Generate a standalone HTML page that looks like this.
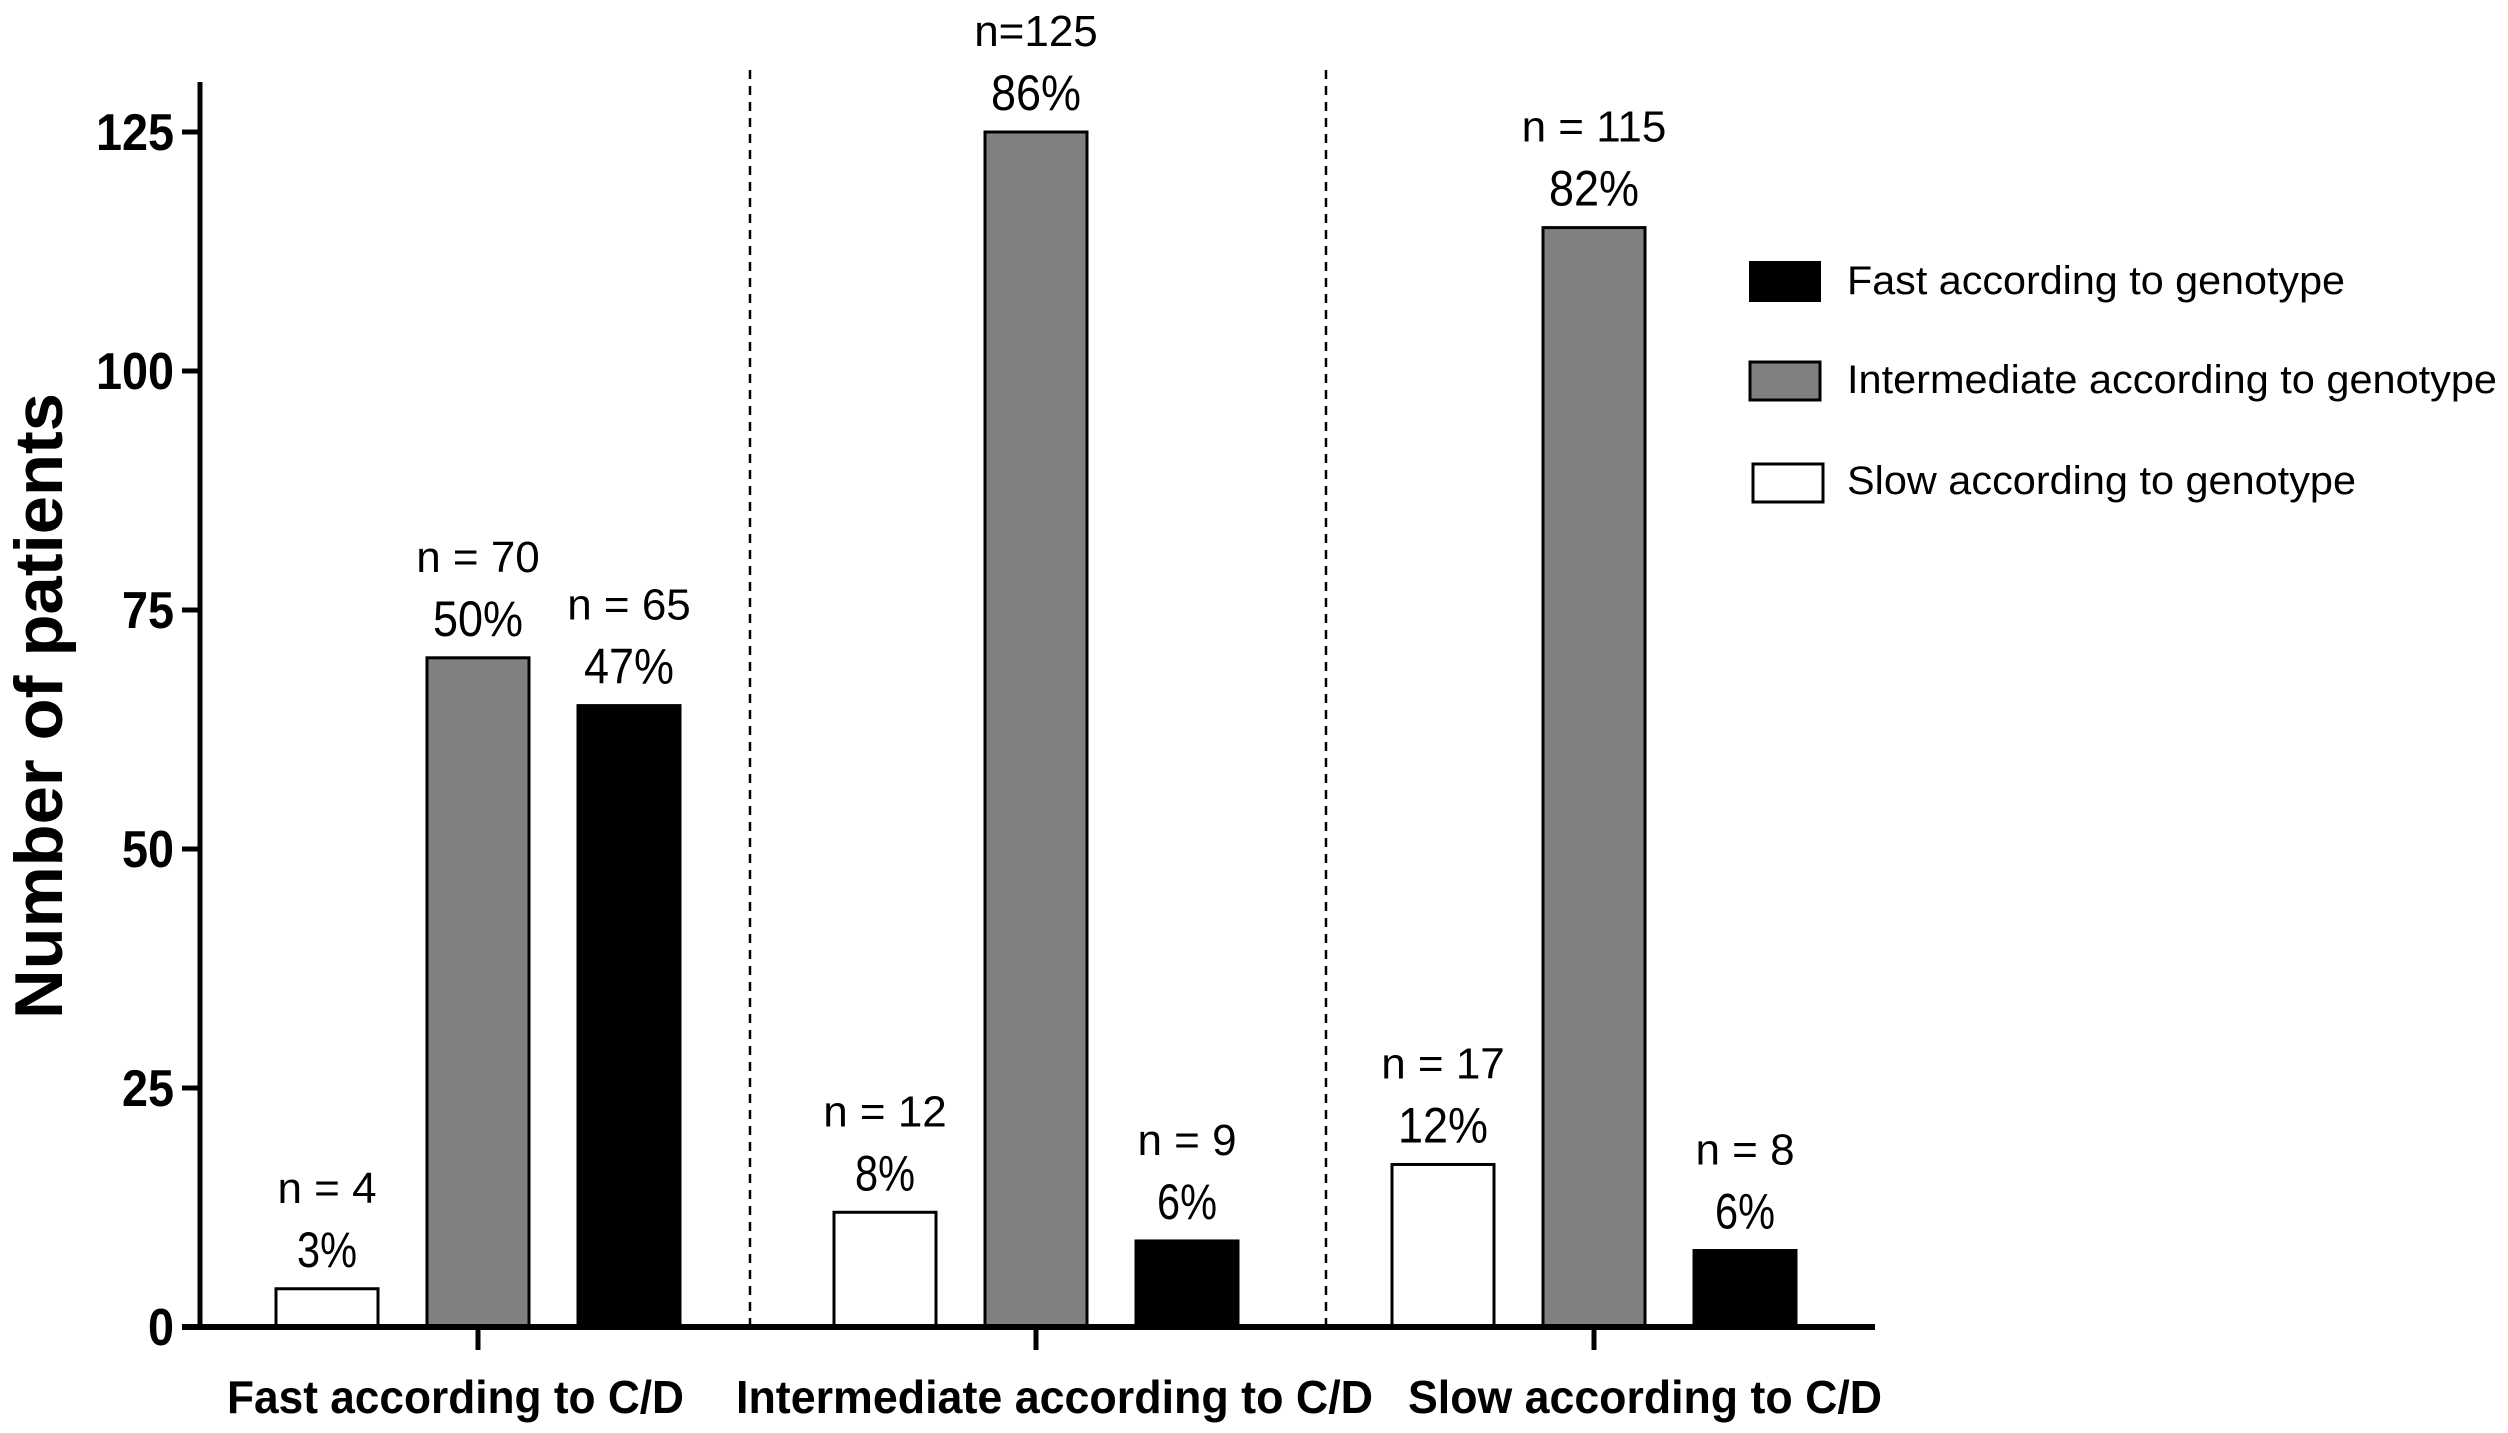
<!DOCTYPE html>
<html><head><meta charset="utf-8"><style>
html,body{margin:0;padding:0;background:#fff}
svg{display:block;font-family:"Liberation Sans",Arial,sans-serif}
</style></head><body>
<svg id="chart" width="2508" height="1433" viewBox="0 0 2508 1433" xmlns="http://www.w3.org/2000/svg">
<rect x="0" y="0" width="2508" height="1433" fill="#fff"/>
<g id="plot"></g>
<text transform="translate(62,706) rotate(-90)" text-anchor="middle" font-size="68" font-weight="bold" textLength="626" lengthAdjust="spacingAndGlyphs">Number of patients</text>
<g>
<g><rect x="1750" y="262" width="70" height="39" fill="#000" stroke="#000" stroke-width="2"/><text x="1847" y="294" font-size="40" textLength="498" lengthAdjust="spacingAndGlyphs">Fast according to genotype</text></g>
<g><rect x="1750" y="362" width="70" height="38" fill="#808080" stroke="#000" stroke-width="3"/><text x="1847" y="393" font-size="40" textLength="650" lengthAdjust="spacingAndGlyphs">Intermediate according to genotype</text></g>
<g><rect x="1753" y="464" width="70" height="38" fill="#fff" stroke="#000" stroke-width="3"/><text x="1847" y="494" font-size="40" textLength="509" lengthAdjust="spacingAndGlyphs">Slow according to genotype</text></g>
</g>
</svg>
<script>
const categories = ["Fast according to C/D", "Intermediate according to C/D", "Slow according to C/D"];
const slowValues = [4, 12, 17];
const intermediateValues = [70, 125, 115];
const fastValues = [65, 9, 8];
const slowPct = ["3%", "8%", "12%"];
const intermediatePct = ["50%", "86%", "82%"];
const fastPct = ["47%", "6%", "6%"];
const intermediateN = ["n = 70", "n=125", "n = 115"];
const slowN = ["n = 4", "n = 12", "n = 17"];
const fastN = ["n = 65", "n = 9", "n = 8"];
const yTicks = [0, 25, 50, 75, 100, 125];
const yTickLabels = ["0", "25", "50", "75", "100", "125"];

const NS = "http://www.w3.org/2000/svg";
const plot = document.getElementById('plot');
const X0 = 200, Y0 = 1327, YTOP = 82, XEND = 1875;
const unit = (1327 - 132) / 125;
function y(v){ return Y0 - v * unit; }
function groupCenter(i){ return 478 + i * 558; }
const barW = 102, barStep = 151;
function mk(tag, attrs){ const e = document.createElementNS(NS, tag); for (const k in attrs) e.setAttribute(k, attrs[k]); plot.appendChild(e); return e; }

// dashed separators
[750, 1326].forEach(function(dx){
  const l = mk('line', {x1: dx, x2: dx, y1: 70, y2: Y0, stroke: '#000', 'stroke-width': 2.5, 'stroke-dasharray': '9,7'});
  
  
});

const series = [
  {vals: slowValues, pct: slowPct, n: slowN, fill: '#fff', name: 'slow'},
  {vals: intermediateValues, pct: intermediatePct, n: intermediateN, fill: '#808080', name: 'intermediate'},
  {vals: fastValues, pct: fastPct, n: fastN, fill: '#000', name: 'fast'}
];
categories.forEach(function(cat, i){
  series.forEach(function(s, j){
    const cx = groupCenter(i) + (j - 1) * barStep;
    const top = y(s.vals[i]);
    const r = mk('rect', {x: cx - barW/2, y: top, width: barW, height: Y0 - top, fill: s.fill, stroke: '#000', 'stroke-width': 3});
    
    
    const p = mk('text', {x: cx, y: top - 22, 'text-anchor': 'middle', 'font-size': 50, textLength: s.pct[i].length * 30, lengthAdjust: 'spacingAndGlyphs'});
    p.textContent = s.pct[i];
    
    
    const n = mk('text', {x: cx, y: top - 86, 'text-anchor': 'middle', 'font-size': 44});
    n.textContent = s.n[i];
    
    
  });
  const t = mk('line', {x1: groupCenter(i), x2: groupCenter(i), y1: Y0, y2: 1350, stroke: '#000', 'stroke-width': 5});
  
  
});
const xLabelPos = [[227, 684], [736, 1373], [1408, 1882]];
categories.forEach(function(cat, i){
  const tx = mk('text', {x: xLabelPos[i][0], y: 1413, 'font-size': 46, 'font-weight': 'bold', textLength: xLabelPos[i][1] - xLabelPos[i][0], lengthAdjust: 'spacingAndGlyphs'});
  tx.textContent = cat;
  
  
});
// axes
const ya = mk('line', {x1: X0, x2: X0, y1: YTOP, y2: Y0 + 3, stroke: '#000', 'stroke-width': 5});


const xa = mk('line', {x1: X0 - 18, x2: XEND, y1: Y0, y2: Y0, stroke: '#000', 'stroke-width': 6});


yTicks.forEach(function(v, k){
  const tk = mk('line', {x1: X0 - 18, x2: X0, y1: y(v), y2: y(v), stroke: '#000', 'stroke-width': 5});
  
  
  const lab = yTickLabels[k];
  const tl = mk('text', {x: 174, y: y(v) + 18, 'text-anchor': 'end', 'font-size': 52, 'font-weight': 'bold', textLength: lab.length * 26, lengthAdjust: 'spacingAndGlyphs'});
  tl.textContent = lab;
  
  
});
</script>
</body></html>
